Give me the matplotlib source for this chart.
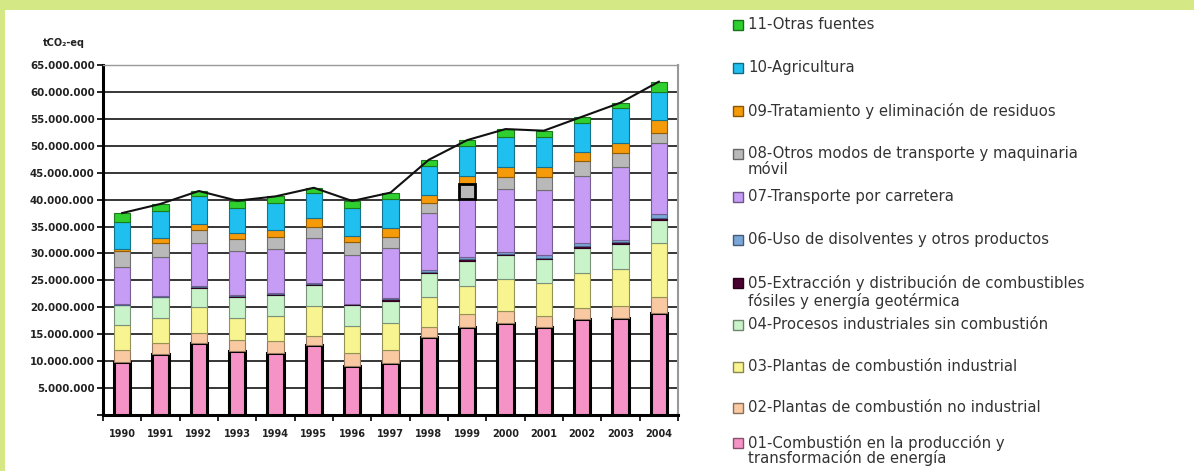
import numpy as np
import matplotlib
matplotlib.use('Agg')
import matplotlib.pyplot as plt
import matplotlib.colors as mcolors
from matplotlib.patches import Rectangle
from matplotlib.ticker import FuncFormatter, FixedLocator

# data (millions of tCO2-eq)
years = ['1990', '1991', '1992', '1993', '1994', '1995', '1996', '1997',
         '1998', '1999', '2000', '2001', '2002', '2003', '2004']
s01 = [9.9, 11.25, 13.3, 11.9, 11.6, 13.0, 9.1, 9.75, 14.5, 16.3, 17.0, 16.3, 17.8, 18.0, 19.0]
s02 = [2.15, 2.15, 2.0, 2.0, 2.15, 1.7, 2.4, 2.25, 1.8, 2.45, 2.4, 2.0, 2.0, 2.25, 3.0]
s03 = [4.7, 4.7, 4.7, 4.2, 4.65, 5.5, 5.0, 5.1, 5.7, 5.15, 5.8, 6.2, 6.5, 6.95, 10.0]
s04 = [3.65, 3.8, 3.6, 3.8, 3.8, 4.0, 3.9, 4.1, 4.4, 4.7, 4.5, 4.4, 4.7, 4.6, 4.2]
s05 = [0.1, 0.1, 0.15, 0.2, 0.2, 0.15, 0.15, 0.3, 0.25, 0.3, 0.25, 0.3, 0.35, 0.3, 0.4]
s06 = [0.1, 0.15, 0.15, 0.2, 0.2, 0.15, 0.15, 0.2, 0.35, 0.5, 0.35, 0.5, 0.55, 0.4, 0.7]
s07 = [6.9, 7.25, 8.0, 8.1, 8.3, 8.4, 9.1, 9.4, 10.45, 10.8, 11.6, 12.1, 12.4, 13.5, 13.3]
s08 = [2.9, 2.5, 2.5, 2.3, 2.2, 2.1, 2.3, 2.0, 1.85, 2.7, 2.25, 2.35, 2.8, 2.7, 1.8]
s09 = [0.5, 0.9, 1.0, 1.05, 1.3, 1.5, 1.1, 1.7, 1.5, 1.4, 1.85, 1.85, 1.8, 1.9, 2.3]
s10 = [5.0, 5.1, 5.2, 4.65, 5.0, 4.8, 5.3, 5.3, 5.5, 5.7, 5.7, 5.7, 5.3, 6.4, 5.2]
s11 = [1.6, 1.3, 1.0, 1.4, 1.2, 0.9, 1.25, 1.2, 1.1, 1.05, 1.4, 1.1, 1.2, 1.0, 2.0]

series = [s01, s02, s03, s04, s05, s06, s07, s08, s09, s10, s11]
labels = ['01-Combustión en la producción y\ntransformación de energía',
          '02-Plantas de combustión no industrial',
          '03-Plantas de combustión industrial',
          '04-Procesos industriales sin combustión',
          '05-Extracción y distribución de combustibles\nfósiles y energía geotérmica',
          '06-Uso de disolventes y otros productos',
          '07-Transporte por carretera',
          '08-Otros modos de transporte y maquinaria\nmóvil',
          '09-Tratamiento y eliminación de residuos',
          '10-Agricultura',
          '11-Otras fuentes']
colors = ['#f593c6', '#f9c9a2', '#f8f48f', '#c9f3c9', '#4a0030', '#7aa6d8',
          '#c69cf4', '#b9b9b9', '#f59b0a', '#1fc0f0', '#2ecf2e']

W, H = 1194, 471
fig = plt.figure(figsize=(W / 100, H / 100), dpi=100)
fig.patch.set_facecolor('white')

# dotted green frame at top and left
fig.patches.append(Rectangle((0, 1 - 10 / H), 1, 10 / H, transform=fig.transFigure,
                             facecolor='#d4e986', edgecolor='none'))
fig.patches.append(Rectangle((0, 0), 5 / W, 1, transform=fig.transFigure,
                             facecolor='#d4e986', edgecolor='none'))

ax = fig.add_axes([103 / W, 1 - 415 / H, (678 - 103) / W, (415 - 65) / H])
x = np.arange(len(years))
bottom = np.zeros(len(years))
for k, (vals, c) in enumerate(zip(series, colors)):
    v = np.array(vals) * 1e6
    rgb = np.array(mcolors.to_rgb(c))
    if k == 0:
        ec, lw = 'black', 2.2
    else:
        ec, lw = tuple(rgb * 0.6), 0.8
    bars = ax.bar(x, v, 0.42, bottom=bottom, color=c, edgecolor=ec, linewidth=lw, zorder=3)
    if k == 7:
        # selected segment in 1999
        bars[9].set_edgecolor('black')
        bars[9].set_linewidth(2)
        bars[9].set_zorder(4)
    bottom += v

ax.plot(x, bottom, color='#111111', lw=1.5, zorder=5)

ax.set_xlim(-0.5, len(years) - 0.5)
ax.set_ylim(0, 65e6)
ax.set_yticks(np.arange(0, 65e6 + 1, 5e6))
ax.yaxis.set_major_formatter(FuncFormatter(
    lambda v, p: '' if v == 0 else f'{int(v):,}'.replace(',', '.')))
ax.grid(axis='y', color='black', lw=1.1, zorder=1)
ax.set_axisbelow(True)

ax.set_xticks(x)
ax.set_xticklabels(years)
ax.xaxis.set_minor_locator(FixedLocator(np.arange(-0.5, len(years), 1)))
ax.tick_params(axis='x', which='major', length=0, pad=10)
ax.tick_params(axis='x', which='minor', length=4, width=1.2, direction='out')
ax.tick_params(axis='y', length=4, width=1.2, direction='out', pad=2)
for lab in ax.get_xticklabels():
    lab.set_fontsize(7)
    lab.set_fontweight('bold')
    lab.set_color('#222222')
for lab in ax.get_yticklabels():
    lab.set_fontsize(7.4)
    lab.set_fontweight('bold')
    lab.set_color('#222222')

ax.spines['left'].set_linewidth(2.2)
ax.spines['bottom'].set_linewidth(2.2)
ax.spines['right'].set_color('#999999')
ax.spines['right'].set_linewidth(1.5)
ax.spines['top'].set_color('#999999')
ax.spines['top'].set_linewidth(1.0)

fig.text(43 / W, 1 - 43 / H, 'tCO₂-eq', fontsize=7, fontweight='bold', color='#222222',
         va='center', ha='left')

# legend drawn by hand, top entry first
leg_y = [443, 408, 367, 325, 283, 240, 197, 154, 111, 68, 25]
for lab, c, yy in zip(labels, colors, leg_y):
    rgb = np.array(mcolors.to_rgb(c))
    fig.patches.append(Rectangle((733 / W, 1 - (yy + 5) / H), 10 / W, 10 / H,
                                 transform=fig.transFigure, facecolor=c,
                                 edgecolor=tuple(rgb * 0.55), lw=1))
    ls = 0.95 if lab.startswith('01') else 1.12
    fig.text(748 / W, 1 - (yy - 8) / H, lab, fontsize=10.7, color='#333333',
             ha='left', va='top', linespacing=ls)

fig.savefig('out.png', dpi=100)
